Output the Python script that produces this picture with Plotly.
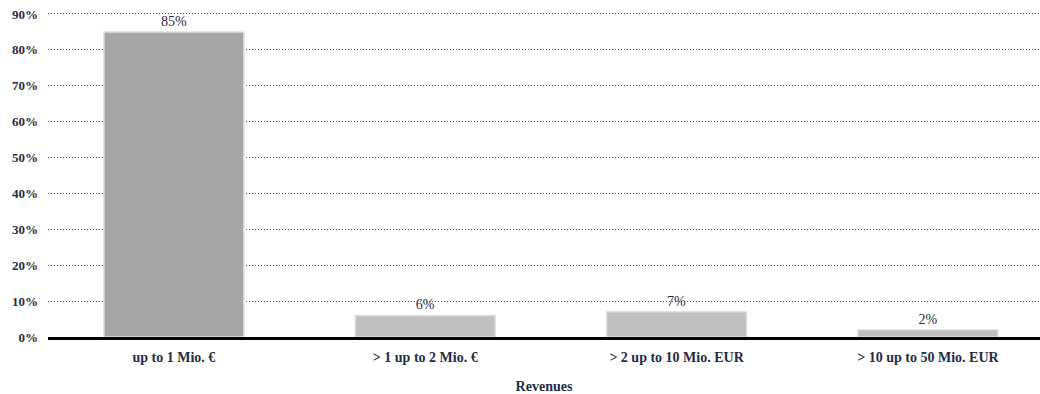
import plotly.graph_objects as go

categories = ["up to 1 Mio. €", "> 1 up to 2 Mio. €", "> 2 up to 10 Mio. EUR", "> 10 up to 50 Mio. EUR"]
values = [0.85, 0.06, 0.07, 0.02]
labels = ["85%", "6%", "7%", "2%"]
bar_colors = ["#a6a6a6", "#bfbfbf", "#bfbfbf", "#bfbfbf"]
tick_vals = [0, 0.1, 0.2, 0.3, 0.4, 0.5, 0.6, 0.7, 0.8, 0.9]
tick_text = ["0%", "10%", "20%", "30%", "40%", "50%", "60%", "70%", "80%", "90%"]

font_family = "Liberation Serif, DejaVu Serif, serif"
navy = "#1f2d45"

fig = go.Figure(go.Bar(
    x=categories, y=values,
    marker=dict(color=bar_colors, line=dict(color="#e0e0e0", width=1.5)),
    text=labels, textposition="outside", cliponaxis=False,
    textfont=dict(family=font_family, size=14, color="#1f2d45"),
    width=0.557,
))

fig.update_layout(
    width=1040, height=394,
    margin=dict(l=48, r=0, t=10, b=57),
    plot_bgcolor="white", paper_bgcolor="white",
    showlegend=False,
    font=dict(family=font_family, color=navy),
    xaxis=dict(
        range=[-0.501, 3.446],
        showline=True, linecolor="black", linewidth=3,
        showgrid=False, ticks="",
        ticklabelstandoff=5,
        tickfont=dict(family=font_family, size=14, color=navy, weight="bold"),
        title=dict(text="<b>Revenues</b>", font=dict(family=font_family, size=14, color=navy), standoff=18),
    ),
    yaxis=dict(
        range=[0, 0.911], tickvals=tick_vals, ticktext=tick_text,
        showgrid=True, gridcolor="#555555", griddash="1px,2px", gridwidth=1,
        zeroline=False, showline=False, ticks="",
        tickfont=dict(family=font_family, size=13, color=navy, weight="bold"),
        ticklabelstandoff=9,
    ),
)

fig.write_html("out.html")
